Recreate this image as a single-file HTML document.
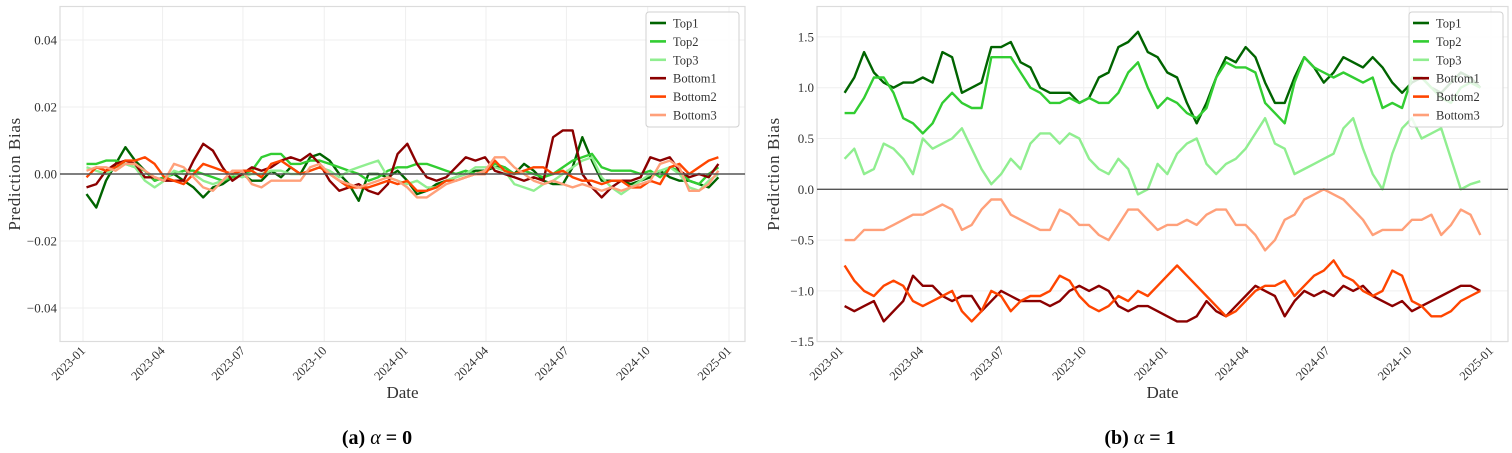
<!DOCTYPE html>
<html><head><meta charset="utf-8"><style>
html,body{margin:0;padding:0;background:#fff;}
svg{display:block;font-family:"Liberation Serif",serif;}
</style></head><body>
<svg id="fig" width="1512" height="453" viewBox="0 0 1512 453" xmlns="http://www.w3.org/2000/svg">
<g id="pa"></g>
<g id="pb"></g>
<text x="377" y="444" text-anchor="middle" font-size="20" font-weight="bold">(a) <tspan font-style="italic" font-weight="normal">α</tspan> = 0</text>
<text x="1140" y="444" text-anchor="middle" font-size="20" font-weight="bold">(b) <tspan font-style="italic" font-weight="normal">α</tspan> = 1</text>
</svg>
<script>
const seriesNames = ["Top1","Top2","Top3","Bottom1","Bottom2","Bottom3"];
const seriesColors = ["#006400","#32CD32","#90EE90","#8B0000","#FF4500","#FFA07A"];
const startDate = "2023-01-05";
const stepDays = 11;
const xTickLabels = ["2023-01","2023-04","2023-07","2023-10","2024-01","2024-04","2024-07","2024-10","2025-01"];
const yTicksA = [0.04,0.02,0.00,-0.02,-0.04];
const yTickLabelsA = ["0.04","0.02","0.00","\u22120.02","\u22120.04"];
const yTicksB = [1.5,1.0,0.5,0.0,-0.5,-1.0,-1.5];
const yTickLabelsB = ["1.5","1.0","0.5","0.0","\u22120.5","\u22121.0","\u22121.5"];

const a_top1 = [-0.006,-0.01,-0.002,0.003,0.008,0.004,0.001,-0.002,-0.001,0.0,-0.002,-0.004,-0.007,-0.004,-0.003,-0.001,0.0,-0.002,-0.002,0.001,-0.001,0.002,0.0,0.005,0.006,0.004,0.0,-0.003,-0.008,0.0,0.0,-0.001,0.001,-0.002,-0.006,-0.005,-0.003,-0.002,-0.001,0.0,0.001,0.001,0.002,0.002,0.0,0.003,0.001,-0.002,-0.003,-0.003,0.002,0.011,0.004,-0.002,-0.002,-0.002,-0.003,-0.002,-0.001,0.001,-0.001,-0.002,-0.002,-0.003,-0.004,-0.001];
const a_top2 = [0.003,0.003,0.004,0.004,0.003,0.002,0.001,-0.002,-0.001,0.0,0.001,0.001,0.0,-0.001,-0.002,-0.001,0.0,0.001,0.005,0.006,0.006,0.003,0.003,0.004,0.004,0.003,0.002,0.001,0.0,-0.002,-0.001,0.001,0.002,0.002,0.003,0.003,0.002,0.001,0.0,0.001,0.0,0.001,0.003,0.002,0.0,0.001,0.0,-0.001,0.0,0.002,0.004,0.005,0.006,0.002,0.001,0.001,0.001,0.0,0.001,-0.001,0.002,0.001,-0.002,-0.003,0.0,0.002];
const a_top3 = [0.002,0.001,0.0,0.002,0.003,0.002,-0.002,-0.004,-0.002,0.001,0.0,0.0,-0.002,-0.003,-0.002,0.0,-0.001,0.0,0.0,0.001,0.001,0.0,0.0,0.001,0.002,0.001,-0.001,0.001,0.002,0.003,0.004,-0.001,-0.002,-0.003,-0.002,-0.004,-0.004,-0.002,-0.001,0.0,0.002,0.002,0.002,0.001,-0.003,-0.004,-0.005,-0.003,-0.002,0.0,0.002,0.004,0.005,-0.001,-0.004,-0.006,-0.004,-0.002,0.0,0.001,0.002,0.0,-0.004,-0.005,-0.002,0.0];
const a_bot1 = [-0.004,-0.003,0.001,0.003,0.004,0.003,-0.001,-0.001,-0.002,-0.002,-0.002,0.004,0.009,0.007,0.002,-0.002,0.0,0.002,0.001,0.002,0.004,0.005,0.004,0.006,0.003,-0.002,-0.005,-0.004,-0.003,-0.005,-0.006,-0.003,0.006,0.009,0.003,-0.001,-0.002,-0.001,0.002,0.005,0.004,0.005,0.001,0.0,-0.001,-0.002,-0.001,-0.002,0.011,0.013,0.013,0.0,-0.004,-0.007,-0.004,-0.002,-0.002,-0.001,0.005,0.004,0.005,0.001,-0.001,0.0,-0.001,0.003];
const a_bot2 = [-0.001,0.002,0.001,0.002,0.004,0.004,0.005,0.003,-0.001,-0.002,-0.003,0.0,0.003,0.002,0.001,0.0,0.001,0.001,-0.001,0.003,0.004,0.002,0.0,0.001,0.002,0.0,-0.002,-0.004,-0.004,-0.004,-0.003,-0.002,-0.003,-0.002,-0.005,-0.005,-0.004,-0.002,-0.002,-0.001,0.0,0.0,0.004,0.001,0.0,0.001,0.002,0.002,0.0,0.001,-0.001,-0.002,-0.002,-0.003,-0.002,-0.002,-0.004,-0.004,-0.002,-0.003,0.002,0.003,0.0,0.002,0.004,0.005];
const a_bot3 = [0.001,0.002,0.002,0.001,0.003,0.003,0.001,-0.001,-0.002,0.003,0.002,-0.001,-0.004,-0.005,-0.002,0.001,0.001,-0.003,-0.004,-0.002,-0.002,-0.002,-0.002,0.002,0.003,0.0,-0.002,-0.003,-0.004,-0.003,-0.002,-0.001,-0.002,-0.004,-0.007,-0.007,-0.005,-0.003,-0.002,-0.001,0.0,0.001,0.005,0.005,0.002,0.0,-0.002,-0.003,-0.002,-0.003,-0.004,-0.003,-0.004,-0.005,-0.004,-0.005,-0.004,-0.003,-0.002,0.003,0.004,0.002,-0.005,-0.005,-0.003,0.001];

const b_top1 = [0.95,1.1,1.35,1.15,1.05,1.0,1.05,1.05,1.1,1.05,1.35,1.3,0.95,1.0,1.05,1.4,1.4,1.45,1.25,1.2,1.0,0.95,0.95,0.95,0.85,0.9,1.1,1.15,1.4,1.45,1.55,1.35,1.3,1.15,1.1,0.85,0.65,0.85,1.1,1.3,1.25,1.4,1.3,1.05,0.85,0.85,1.1,1.3,1.2,1.05,1.15,1.3,1.25,1.2,1.3,1.2,1.05,0.95,1.05,1.1,1.0,0.95,1.05,1.15,1.1,1.0];
const b_top2 = [0.75,0.75,0.9,1.1,1.1,0.95,0.7,0.65,0.55,0.65,0.85,0.95,0.85,0.8,0.8,1.3,1.3,1.3,1.15,1.0,0.95,0.85,0.85,0.9,0.85,0.9,0.85,0.85,0.95,1.15,1.25,1.0,0.8,0.9,0.85,0.75,0.7,0.8,1.1,1.25,1.2,1.2,1.15,0.85,0.75,0.65,1.05,1.3,1.2,1.15,1.1,1.15,1.1,1.05,1.1,0.8,0.85,0.8,1.1,1.1,1.0,0.9,0.85,1.0,1.05,1.0];
const b_top3 = [0.3,0.4,0.15,0.2,0.45,0.4,0.3,0.15,0.5,0.4,0.45,0.5,0.6,0.4,0.2,0.05,0.15,0.3,0.2,0.45,0.55,0.55,0.45,0.55,0.5,0.3,0.2,0.15,0.3,0.2,-0.05,0.0,0.25,0.15,0.35,0.45,0.5,0.25,0.15,0.25,0.3,0.4,0.55,0.7,0.45,0.4,0.15,0.2,0.25,0.3,0.35,0.6,0.7,0.4,0.15,0.0,0.35,0.6,0.7,0.5,0.55,0.6,0.3,0.0,0.05,0.08];
const b_bot1 = [-1.15,-1.2,-1.15,-1.1,-1.3,-1.2,-1.1,-0.85,-0.95,-0.95,-1.05,-1.1,-1.05,-1.05,-1.2,-1.1,-1.0,-1.05,-1.1,-1.1,-1.1,-1.15,-1.1,-1.0,-0.95,-1.0,-0.95,-1.0,-1.15,-1.2,-1.15,-1.15,-1.2,-1.25,-1.3,-1.3,-1.25,-1.1,-1.2,-1.25,-1.15,-1.05,-0.95,-1.0,-1.05,-1.25,-1.1,-1.0,-1.05,-1.0,-1.05,-0.95,-1.0,-0.95,-1.05,-1.1,-1.15,-1.1,-1.2,-1.15,-1.1,-1.05,-1.0,-0.95,-0.95,-1.0];
const b_bot2 = [-0.75,-0.9,-1.0,-1.05,-0.95,-0.9,-0.95,-1.1,-1.15,-1.1,-1.05,-1.0,-1.2,-1.3,-1.2,-1.0,-1.05,-1.2,-1.1,-1.05,-1.05,-1.0,-0.85,-0.9,-1.05,-1.15,-1.2,-1.15,-1.05,-1.1,-1.0,-1.05,-0.95,-0.85,-0.75,-0.85,-0.95,-1.05,-1.15,-1.25,-1.2,-1.1,-1.0,-0.95,-0.95,-0.9,-1.05,-0.95,-0.85,-0.8,-0.7,-0.85,-0.9,-1.0,-1.05,-1.0,-0.8,-0.85,-1.1,-1.15,-1.25,-1.25,-1.2,-1.1,-1.05,-1.0];
const b_bot3 = [-0.5,-0.5,-0.4,-0.4,-0.4,-0.35,-0.3,-0.25,-0.25,-0.2,-0.15,-0.2,-0.4,-0.35,-0.2,-0.1,-0.1,-0.25,-0.3,-0.35,-0.4,-0.4,-0.2,-0.25,-0.35,-0.35,-0.45,-0.5,-0.35,-0.2,-0.2,-0.3,-0.4,-0.35,-0.35,-0.3,-0.35,-0.25,-0.2,-0.2,-0.35,-0.35,-0.45,-0.6,-0.5,-0.3,-0.25,-0.1,-0.05,0.0,-0.05,-0.1,-0.2,-0.3,-0.45,-0.4,-0.4,-0.4,-0.3,-0.3,-0.25,-0.45,-0.35,-0.2,-0.25,-0.45];

const NS = "http://www.w3.org/2000/svg";
const epoch = Date.UTC(2023,0,1);
function dayOf(s){const p=s.split("-").map(Number);return (Date.UTC(p[0],p[1]-1,p[2]||1)-epoch)/86400000;}
function mk(parent, tag, attrs){const e=document.createElementNS(NS,tag);for(const k in attrs)e.setAttribute(k,attrs[k]);parent.appendChild(e);return e;}

function drawPanel(g, cfg, seriesData, tag){
  const xScale = d => cfg.x0 + d*cfg.pxPerDay;
  const yScale = v => cfg.yZero - v*cfg.pxPerUnit;
  // gridlines
  xTickLabels.forEach((lab)=>{
    const x = xScale(dayOf(lab));
    const l = mk(g,"line",{x1:x,x2:x,y1:cfg.top,y2:cfg.bottom,stroke:"#efefef","stroke-width":1});
    
    
  });
  cfg.yTicks.forEach((v)=>{
    const y = yScale(v);
    const l = mk(g,"line",{x1:cfg.left,x2:cfg.right,y1:y,y2:y,stroke:"#efefef","stroke-width":1});
    
    
  });
  // frame
  const fr = mk(g,"rect",{x:cfg.left,y:cfg.top,width:cfg.right-cfg.left,height:cfg.bottom-cfg.top,fill:"none",stroke:"#dcdcdc","stroke-width":1.2});
  
  
  // y tick labels
  cfg.yTicks.forEach((v,i)=>{
    const t = mk(g,"text",{x:cfg.left-3,y:yScale(v)+4.5,"text-anchor":"end","font-size":13,fill:"#333"});
    t.textContent = cfg.yLabels[i];
    
    
  });
  // x tick labels
  xTickLabels.forEach((lab)=>{
    const x = xScale(dayOf(lab));
    const t = mk(g,"text",{x:x+3,y:cfg.bottom+10,"text-anchor":"end","font-size":12.5,fill:"#333",transform:`rotate(-45 ${x+3} ${cfg.bottom+10})`});
    t.textContent = lab;
    
    
  });
  // axis titles
  const xt = mk(g,"text",{x:(cfg.left+cfg.right)/2,y:398,"text-anchor":"middle","font-size":17,fill:"#333"});
  xt.textContent = "Date";
  
  
  const yc = (cfg.top+cfg.bottom)/2;
  const yt = mk(g,"text",{x:cfg.yTitleX,y:yc,"text-anchor":"middle","font-size":17,fill:"#333",transform:`rotate(-90 ${cfg.yTitleX} ${yc})`,"letter-spacing":"0.6"});
  yt.textContent = "Prediction Bias";
  
  
  // series
  const d0 = dayOf(startDate);
  seriesData.forEach((vals,si)=>{
    const pts = vals.map((v,i)=> xScale(d0+i*stepDays).toFixed(1)+","+yScale(v).toFixed(1)).join(" ");
    const pl = mk(g,"polyline",{points:pts,fill:"none",stroke:seriesColors[si],"stroke-width":2.4,"stroke-linejoin":"round"});
    
    
  });
  // zero line
  const z = mk(g,"line",{x1:cfg.left,x2:cfg.right,y1:yScale(0),y2:yScale(0),stroke:"#555","stroke-width":1.4});
  
  
  // legend
  const lg = mk(g,"g",{});
  
  
  const lb = mk(lg,"rect",{x:cfg.legX,y:12,width:cfg.legW,height:115,rx:3,fill:"#fff","fill-opacity":0.85,stroke:"#d0d0d0","stroke-width":1});
  
  
  seriesNames.forEach((n,i)=>{
    const y = 23 + i*18.4;
    const ln = mk(lg,"line",{x1:cfg.legX+4,x2:cfg.legX+20,y1:y,y2:y,stroke:seriesColors[i],"stroke-width":2.6});
    
    
    const t = mk(lg,"text",{x:cfg.legX+27,y:y+4.5,"font-size":12.5,fill:"#333"});
    t.textContent = n;
    
    
  });
}

drawPanel(document.getElementById("pa"),
  {left:60,right:745,top:6.5,bottom:341.5,x0:83,pxPerDay:646/731,yZero:174,pxPerUnit:3350,
   yTicks:yTicksA,yLabels:yTickLabelsA,yTitleX:20,legX:646,legW:93},
  [a_top1,a_top2,a_top3,a_bot1,a_bot2,a_bot3],"a");
drawPanel(document.getElementById("pb"),
  {left:817,right:1508,top:6.5,bottom:341.5,x0:841,pxPerDay:650/731,yZero:189.3,pxPerUnit:101.6,
   yTicks:yTicksB,yLabels:yTickLabelsB,yTitleX:779,legX:1409,legW:94},
  [b_top1,b_top2,b_top3,b_bot1,b_bot2,b_bot3],"b");
</script>
</body></html>
